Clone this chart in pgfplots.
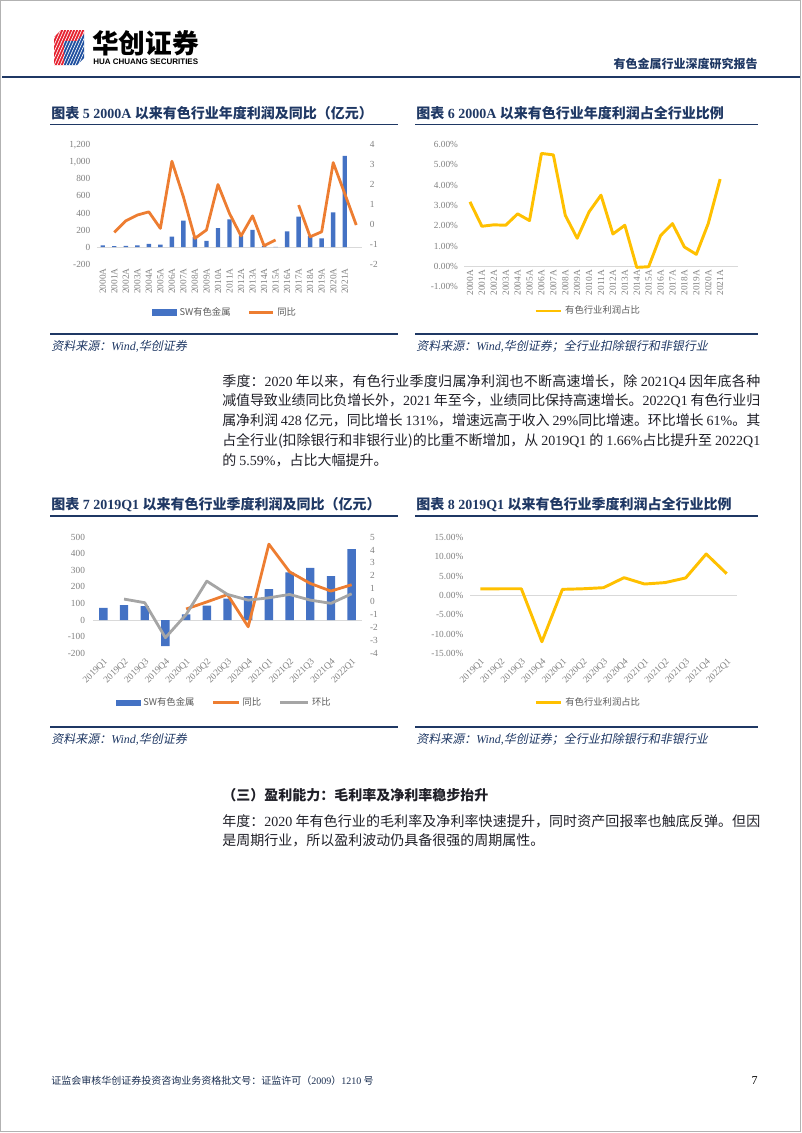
\documentclass[border=0pt]{standalone}
\usepackage{pgfplots}
\pgfplotsset{compat=1.18}
\usepackage{fontspec}
\setmainfont{Liberation Serif}
\newfontfamily\cjk{Noto Sans CJK SC}
\newfontfamily\cjkit{Noto Sans CJK SC}[FakeSlant=0.2]
\newfontfamily\sans{Liberation Sans}
\XeTeXlinebreaklocale "zh"
\XeTeXlinebreakskip=0pt plus 1.5pt minus 0.3pt
\definecolor{navy}{HTML}{1F3864}
\definecolor{barblue}{HTML}{4472C4}
\definecolor{orng}{HTML}{ED7D31}
\definecolor{gry}{HTML}{A5A5A5}
\definecolor{gold}{HTML}{FFC000}
\definecolor{tickgray}{HTML}{808080}
\definecolor{zeroline}{HTML}{D9D9D9}
\definecolor{legtext}{HTML}{595959}
\definecolor{bodytext}{HTML}{202028}
\definecolor{logored}{HTML}{E5202E}
\definecolor{logoblue}{HTML}{1D4E9E}
\newcommand\nm[1]{{\rmfamily #1}}
\pgfplotsset{
  base/.style={scale only axis, anchor=south west, axis line style={draw=none},
    major tick length=0pt, tick style={draw=none},
    ticklabel style={font=\fontsize{7}{8}\selectfont, text=tickgray, inner sep=0.8pt},
    clip=false},
  leg/.style={legend style={draw=none, fill=none, legend columns=-1,
    font=\cjk\fontsize{7}{8}\selectfont, text=legtext, anchor=center,
    /tikz/every even column/.append style={column sep=11pt}}, legend cell align=left},
}
\begin{document}
\begin{tikzpicture}
\path[use as bounding box] (0,0) rectangle (601.5pt,-849.75pt);
\begin{scope}[x=0.75pt,y=-0.75pt]
% page frame
\draw[gray!60, line width=0.6pt] (0.5,0.5) rectangle (800.5,1131.5);
% logo
\fill[logored] (54,37) -- (61,30) -- (84,30) -- (84,34) -- (77,41) -- (64,41) -- (64,65) -- (54,65) -- cycle;
\fill[logoblue] (64,41) -- (77,41) -- (84,34) -- (84,58) -- (77,65) -- (64,65) -- cycle;
\begin{scope}
\clip (54,37) -- (61,30) -- (84,30) -- (84,58) -- (77,65) -- (54,65) -- cycle;
\foreach \i in {0,3,...,60} \draw[white, line width=0.5pt] (40+\i,70) -- (60+\i,25);
\end{scope}
\node[anchor=west, inner sep=0pt, font=\cjk\bfseries\fontsize{20}{20}\selectfont] at (92,43) {华创证券};
\node[anchor=west, inner sep=0pt, font=\sans\bfseries\fontsize{6}{6}\selectfont] at (93,61.5) {HUA CHUANG SECURITIES};
\node[anchor=east, inner sep=0pt, text=navy, font=\cjk\bfseries\fontsize{9}{10}\selectfont] at (758,64) {有色金属行业深度研究报告};
\draw[navy, line width=1.8pt] (2,77) -- (800,77);
% chart titles and rules
\node[anchor=west, inner sep=0pt, text=navy, font=\fontsize{10.5}{12}\selectfont\bfseries] at (51,113) {{\cjk 图表} 5 2000A {\cjk 以来有色行业年度利润及同比（亿元）}};
\node[anchor=west, inner sep=0pt, text=navy, font=\fontsize{10.5}{12}\selectfont\bfseries] at (416,113) {{\cjk 图表} 6 2000A {\cjk 以来有色行业年度利润占全行业比例}};
\draw[navy, line width=0.9pt] (50,124.5) -- (398,124.5);
\draw[navy, line width=0.9pt] (415,124.5) -- (758,124.5);
\draw[navy, line width=0.9pt] (50,334) -- (398,334);
\draw[navy, line width=0.9pt] (415,334) -- (758,334);
\node[anchor=west, inner sep=0pt, text=navy, font=\fontsize{9}{10}\selectfont] at (51,346) {{\cjkit 资料来源：}\textit{Wind,}{\cjkit 华创证券}};
\node[anchor=west, inner sep=0pt, text=navy, font=\fontsize{9}{10}\selectfont] at (416,346) {{\cjkit 资料来源：}\textit{Wind,}{\cjkit 华创证券；全行业扣除银行和非银行业}};
% paragraph 1
\node[anchor=north west, inner sep=0pt, text width=403.5pt, align=justify, text=bodytext, font=\cjk\fontsize{10.5}{14.8}\selectfont] at (222,374) {\noindent 季度：\nm{2020} 年以来，有色行业季度归属净利润也不断高速增长，除 \nm{2021Q4} 因年底各种\linebreak 减值导致业绩同比负增长外，\nm{2021} 年至今，业绩同比保持高速增长。\nm{2022Q1} 有色行业归\linebreak 属净利润 \nm{428} 亿元，同比增长 \nm{131\%}，增速远高于收入 \nm{29\%}同比增速。环比增长 \nm{61\%}。其\linebreak 占全行业(扣除银行和非银行业)的比重不断增加，从 \nm{2019Q1} 的 \nm{1.66\%}占比提升至 \nm{2022Q1}\linebreak 的 \nm{5.59\%}，占比大幅提升。};
% charts 7/8 titles
\node[anchor=west, inner sep=0pt, text=navy, font=\fontsize{10.5}{12}\selectfont\bfseries] at (51,505) {{\cjk 图表} 7 2019Q1 {\cjk 以来有色行业季度利润及同比（亿元）}};
\node[anchor=west, inner sep=0pt, text=navy, font=\fontsize{10.5}{12}\selectfont\bfseries] at (416,505) {{\cjk 图表} 8 2019Q1 {\cjk 以来有色行业季度利润占全行业比例}};
\draw[navy, line width=0.9pt] (50,516) -- (398,516);
\draw[navy, line width=0.9pt] (415,516) -- (758,516);
\draw[navy, line width=0.9pt] (50,727) -- (398,727);
\draw[navy, line width=0.9pt] (415,727) -- (758,727);
\node[anchor=west, inner sep=0pt, text=navy, font=\fontsize{9}{10}\selectfont] at (51,739) {{\cjkit 资料来源：}\textit{Wind,}{\cjkit 华创证券}};
\node[anchor=west, inner sep=0pt, text=navy, font=\fontsize{9}{10}\selectfont] at (416,739) {{\cjkit 资料来源：}\textit{Wind,}{\cjkit 华创证券；全行业扣除银行和非银行业}};
% section heading and paragraph 2
\node[anchor=west, inner sep=0pt, text=bodytext, font=\cjk\bfseries\fontsize{10.5}{12}\selectfont] at (222,795) {（三）盈利能力：毛利率及净利率稳步抬升};
\node[anchor=north west, inner sep=0pt, text width=403.5pt, align=justify, text=bodytext, font=\cjk\fontsize{10.5}{14.8}\selectfont] at (222,814) {\noindent 年度：\nm{2020} 年有色行业的毛利率及净利率快速提升，同时资产回报率也触底反弹。但因\linebreak 是周期行业，所以盈利波动仍具备很强的周期属性。};
% footer
\node[anchor=west, inner sep=0pt, text=navy!80!black, font=\cjk\fontsize{7.5}{8}\selectfont] at (51,1081) {证监会审核华创证券投资咨询业务资格批文号：证监许可（\nm{2009}）\nm{1210} 号};
\node[anchor=east, inner sep=0pt, font=\fontsize{9}{10}\selectfont] at (758,1081) {7};
\end{scope}

% ===== Chart 5 =====
\begin{axis}[base, at={(72.75pt,-198.2pt)}, width=198.75pt, height=89.7pt,
  xmin=-0.5, xmax=22.5, ymin=-200, ymax=1200,
  ytick={-200,0,200,400,600,800,1000,1200},
  yticklabels={-200,0,200,400,600,800,{1,000},{1,200}},
  yticklabel style={xshift=-4pt},
  xtick={0,...,22},
  xticklabels={2000A,2001A,2002A,2003A,2004A,2005A,2006A,2007A,2008A,2009A,2010A,2011A,2012A,2013A,2014A,2015A,2016A,2017A,2018A,2019A,2020A,2021A,{}},
  xticklabel style={yshift=-2pt, rotate=90, anchor=east}]
\draw[zeroline, line width=0.8pt] (axis cs:-0.5,0) -- (axis cs:22.5,0);
\addplot[ybar, bar width=3.3pt, fill=barblue, draw=none] coordinates {
(0,20) (1,12) (2,15) (3,20) (4,39) (5,31) (6,125) (7,310) (8,118) (9,75) (10,224)
(11,325) (12,135) (13,204) (14,15) (15,3) (16,184) (17,357) (18,130) (19,102) (20,408) (21,1070)};
\end{axis}
\begin{axis}[base, leg, at={(72.75pt,-198.2pt)}, width=198.75pt, height=89.7pt,
  xmin=-0.5, xmax=22.5, ymin=-2, ymax=4, xtick=\empty,
  ytick={-2,...,4}, yticklabels={-2,-1,0,1,2,3,4},
  yticklabel pos=right, yticklabel style={xshift=5pt},
  unbounded coords=jump,
  legend style={at={(0.485,-0.40)}}]
\addlegendimage{legend image code/.code={\fill[barblue] (0pt,-2.2pt) rectangle (18pt,2.2pt);}}
\addlegendentry{SW有色金属}
\addplot[orng, line width=2.1pt, line join=round,
  legend image code/.code={\draw[orng, line width=2.1pt] (0pt,0pt) -- (18pt,0pt);}] coordinates {
(0,nan) (1,-0.40) (2,0.18) (3,0.47) (4,0.63) (5,-0.20) (6,3.17) (7,1.38) (8,-0.70) (9,-0.28)
(10,2.00) (11,0.55) (12,-0.58) (13,0.43) (14,-1.07) (15,-0.78) (16,nan) (17,0.97) (18,-0.62)
(19,-0.37) (20,3.10) (21,1.55) (22,-0.03)};
\addlegendentry{同比}
\end{axis}

% ===== Chart 6 =====
\begin{axis}[base, leg, at={(348pt,-215.0pt)}, width=205.5pt, height=106.8pt,
  xmin=-0.5, xmax=22.5, ymin=-1, ymax=6,
  ytick={-1,...,6},
  yticklabels={-1.00\%,0.00\%,1.00\%,2.00\%,3.00\%,4.00\%,5.00\%,6.00\%},
  yticklabel style={xshift=-3.5pt},
  xtick={0,...,22},
  xticklabels={2000A,2001A,2002A,2003A,2004A,2005A,2006A,2007A,2008A,2009A,2010A,2011A,2012A,2013A,2014A,2015A,2016A,2017A,2018A,2019A,2020A,2021A,{}},
  xticklabel style={yshift=13.5pt, rotate=90, anchor=east},
  legend style={at={(0.454,-0.171)}}]
\draw[zeroline, line width=0.8pt] (axis cs:-0.5,0) -- (axis cs:22.5,0);
\addplot[gold, line width=2.2pt, line join=round,
  legend image code/.code={\draw[gold, line width=2.2pt] (0pt,0pt) -- (19pt,0pt);}] coordinates {
(0,3.17) (1,1.97) (2,2.04) (3,2.02) (4,2.58) (5,2.25) (6,5.55) (7,5.48) (8,2.51) (9,1.38)
(10,2.68) (11,3.50) (12,1.59) (13,2.02) (14,-0.05) (15,-0.02) (16,1.51) (17,2.10) (18,0.95)
(19,0.59) (20,2.10) (21,4.29)};
\addlegendentry{有色行业利润占比}
\end{axis}

% ===== Chart 7 =====
\begin{axis}[base, at={(69.75pt,-490.0pt)}, width=201.75pt, height=87.2pt,
  xmin=-0.5, xmax=12.5, ymin=-200, ymax=500,
  ytick={-200,-100,...,500},
  yticklabels={-200,-100,0,100,200,300,400,500},
  yticklabel style={xshift=-5pt},
  xtick={0,...,12},
  xticklabels={2019Q1,2019Q2,2019Q3,2019Q4,2020Q1,2020Q2,2020Q3,2020Q4,2021Q1,2021Q2,2021Q3,2021Q4,2022Q1},
  xticklabel style={yshift=-2pt, rotate=45, anchor=north east}]
\draw[zeroline, line width=0.8pt] (axis cs:-0.5,0) -- (axis cs:12.5,0);
\addplot[ybar, bar width=6.3pt, fill=barblue, draw=none] coordinates {
(0,74) (1,90) (2,84) (3,-157) (4,34) (5,88) (6,130) (7,145) (8,187) (9,287) (10,315) (11,265) (12,428)};
\end{axis}
\begin{axis}[base, leg, at={(69.75pt,-490.0pt)}, width=201.75pt, height=87.2pt,
  xmin=-0.5, xmax=12.5, ymin=-4, ymax=5, xtick=\empty,
  ytick={-4,...,5}, yticklabels={-4,-3,-2,-1,0,1,2,3,4,5},
  yticklabel pos=right, yticklabel style={xshift=5pt},
  unbounded coords=jump,
  legend style={at={(0.49,-0.425)}}]
\addlegendimage{legend image code/.code={\fill[barblue] (0pt,-2.2pt) rectangle (18pt,2.2pt);}}
\addlegendentry{SW有色金属}
\addplot[orng, line width=2.1pt, line join=round,
  legend image code/.code={\draw[orng, line width=2.1pt] (0pt,0pt) -- (19pt,0pt);}] coordinates {
(0,nan) (1,nan) (2,nan) (3,nan) (4,-0.57) (5,-0.02) (6,0.55) (7,-1.94) (8,4.45) (9,2.31)
(10,1.41) (11,0.82) (12,1.31)};
\addlegendentry{同比}
\addplot[gry, line width=2.1pt, line join=round,
  legend image code/.code={\draw[gry, line width=2.1pt] (0pt,0pt) -- (21pt,0pt);}] coordinates {
(0,nan) (1,0.20) (2,-0.08) (3,-2.79) (4,-1.00) (5,1.59) (6,0.56) (7,0.12) (8,0.30) (9,0.56)
(10,0.12) (11,-0.13) (12,0.61)};
\addlegendentry{环比}
\end{axis}

% ===== Chart 8 =====
\begin{axis}[base, leg, at={(352.5pt,-490.0pt)}, width=200.25pt, height=87pt,
  xmin=-0.5, xmax=12.5, ymin=-15, ymax=15,
  ytick={-15,-10,...,15},
  yticklabels={-15.00\%,-10.00\%,-5.00\%,0.00\%,5.00\%,10.00\%,15.00\%},
  yticklabel style={xshift=-4pt},
  xtick={0,...,12},
  xticklabels={2019Q1,2019Q2,2019Q3,2019Q4,2020Q1,2020Q2,2020Q3,2020Q4,2021Q1,2021Q2,2021Q3,2021Q4,2022Q1},
  xticklabel style={yshift=-2pt, rotate=45, anchor=north east},
  legend style={at={(0.444,-0.426)}}]
\draw[zeroline, line width=0.8pt] (axis cs:-0.5,0) -- (axis cs:12.5,0);
\addplot[gold, line width=2.2pt, line join=round,
  legend image code/.code={\draw[gold, line width=2.2pt] (0pt,0pt) -- (19pt,0pt);}] coordinates {
(0,1.66) (1,1.70) (2,1.70) (3,-12.0) (4,1.55) (5,1.70) (6,1.98) (7,4.57) (8,2.93) (9,3.30)
(10,4.50) (11,10.70) (12,5.59)};
\addlegendentry{有色行业利润占比}
\end{axis}
\end{tikzpicture}
\end{document}
